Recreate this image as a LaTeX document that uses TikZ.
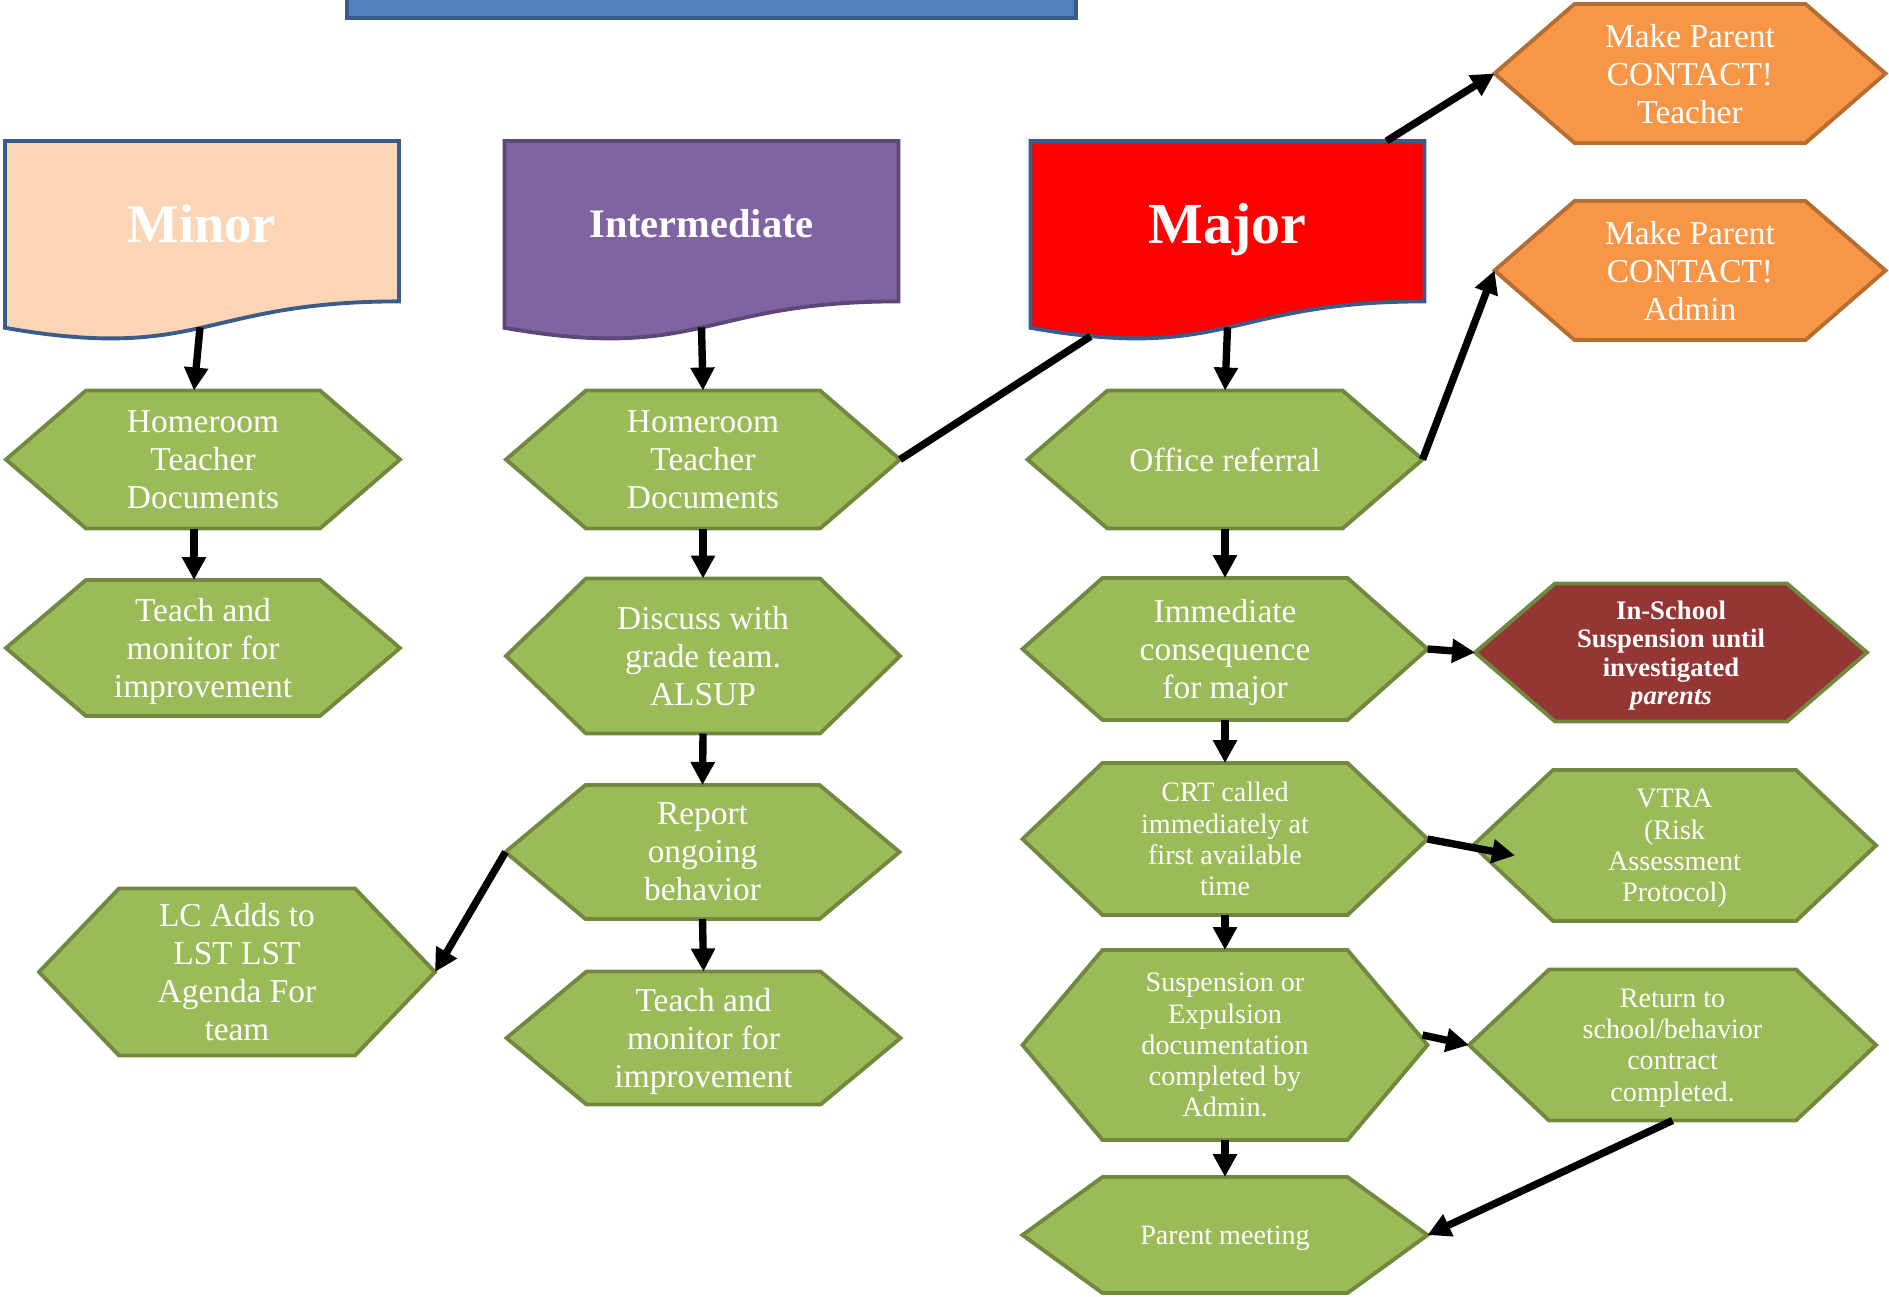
\documentclass[tikz,border=0pt]{standalone}
\usepackage{fontspec}
\setmainfont{Liberation Serif}
\usetikzlibrary{arrows.meta,backgrounds,calc}
\definecolor{grn}{HTML}{9BBB59}
\definecolor{grnd}{HTML}{71893F}
\definecolor{org}{HTML}{F79646}
\definecolor{orgd}{HTML}{B66D31}
\definecolor{wine}{HTML}{943634}
\definecolor{peach}{HTML}{FBD5B5}
\definecolor{lilac}{HTML}{8064A2}
\definecolor{lilacd}{HTML}{5C4776}
\definecolor{navy}{HTML}{385D8A}
\definecolor{bar}{HTML}{4F81BD}
\tikzset{
  >={Triangle[length=2.3mm,width=2.3mm]},
  hexa/.style={minimum width=3.94cm, minimum height=1.38cm, inner sep=0pt, outer sep=0pt,
               align=center, text=white, text depth=-1pt, font=\fontsize{9.5}{10.8}\selectfont},
  hexs/.style={hexa, minimum width=4.05cm, font=\fontsize{8}{8.9}\selectfont},
  doc/.style={minimum width=3.94cm, minimum height=1.604cm, inner sep=0pt, outer sep=0pt,
              text=white, text depth=0pt},
  hexg/.style={fill=grn, draw=grnd, line width=1.1pt},
  hexo/.style={fill=org, draw=orgd, line width=1.1pt},
  hexr/.style={fill=wine, draw=grnd, line width=1.1pt},
  l/.style={->, line width=2.1pt},
}

\begin{document}
\begin{tikzpicture}
  \useasboundingbox (0,0) rectangle (18.89,-12.96);
  % banner, cut by the top edge
  \draw[fill=bar, draw=navy, line width=1pt] (3.47,0.3) rectangle (10.76,-0.18);
  % level headings
  \node[doc, text height=11.9pt, font=\fontsize{15.5}{18}\selectfont\bfseries] (minor) at (2.02,-2.212) {Minor};
  \node[doc, text height=9.2pt, font=\fontsize{11.5}{14}\selectfont\bfseries] (inter) at (7.015,-2.212) {Intermediate};
  \node[doc, text height=12.5pt, font=\fontsize{16.5}{19}\selectfont\bfseries] (major) at (12.275,-2.212) {Major};
  % minor column
  \node[hexa] (hm1) at (2.03,-4.595) {Homeroom\\Teacher\\Documents};
  \node[hexa, minimum height=1.36cm] (tm1) at (2.03,-6.48) {Teach and\\monitor for\\improvement};
  \node[hexa, minimum width=3.96cm, minimum height=1.67cm] (lc) at (2.37,-9.72) {LC Adds to\\LST LST\\Agenda For\\team};
  % intermediate column
  \node[hexa] (hm2) at (7.03,-4.595) {Homeroom\\Teacher\\Documents};
  \node[hexa, minimum height=1.55cm] (disc) at (7.03,-6.56) {Discuss with\\grade team.\\ALSUP};
  \node[hexa, minimum height=1.34cm] (rep) at (7.025,-8.52) {Report\\ongoing\\behavior};
  \node[hexa, minimum height=1.33cm] (tm2) at (7.035,-10.38) {Teach and\\monitor for\\improvement};
  % major column
  \node[hexa, minimum width=3.95cm] (off) at (12.25,-4.595) {Office referral};
  \node[hexa, minimum width=4.05cm, minimum height=1.42cm] (imm) at (12.25,-6.49) {Immediate\\consequence\\for major};
  \node[hexs, minimum height=1.52cm] (crt) at (12.25,-8.39) {CRT called\\immediately at\\first available\\time};
  \node[hexs, minimum height=1.90cm] (susp) at (12.25,-10.45) {Suspension or\\Expulsion\\documentation\\completed by\\Admin.};
  \node[hexs, minimum height=1.16cm] (pm) at (12.25,-12.35) {Parent meeting};
  % right column
  \node[hexa, minimum width=3.91cm, minimum height=1.39cm] (mpt) at (16.90,-0.735) {Make Parent\\CONTACT!\\Teacher};
  \node[hexa, minimum width=3.91cm, minimum height=1.39cm] (mpa) at (16.90,-2.705) {Make Parent\\CONTACT!\\Admin};
  \node[hexa, minimum width=3.92cm, font=\fontsize{7.6}{8.1}\selectfont\bfseries] (iss) at (16.71,-6.525)
    {In-School\\Suspension until\\investigated\\\textit{parents}};
  \node[hexs, minimum width=4.03cm, minimum height=1.51cm] (vtra) at (16.745,-8.455) {VTRA\\(Risk\\Assessment\\Protocol)};
  \node[hexs, minimum width=4.07cm, minimum height=1.51cm] (ret) at (16.725,-10.45) {Return to\\school/behavior\\contract\\completed.};
  % outlines behind the texts
  \begin{scope}[on background layer]
    \foreach \n/\f/\d in {minor/peach/navy, inter/lilac/lilacd, major/red/navy}
      \draw[fill=\f, draw=\d, line width=1.1pt] (\n.north west) -- (\n.north east) -- (\n.south east)
        .. controls (\n.south) and ([yshift=-6.1mm]\n.south) .. ([yshift=-2.64mm]\n.south west) -- cycle;
    \foreach \n/\s in {hm1/hexg, tm1/hexg, lc/hexg, hm2/hexg, disc/hexg, rep/hexg, tm2/hexg,
                       off/hexg, imm/hexg, crt/hexg, susp/hexg, pm/hexg, vtra/hexg, ret/hexg,
                       mpt/hexo, mpa/hexo, iss/hexr}
      \draw[\s] (\n.west) -- ([xshift=8mm]\n.north west) -- ([xshift=-8mm]\n.north east) -- (\n.east)
        -- ([xshift=-8mm]\n.south east) -- ([xshift=8mm]\n.south west) -- cycle;
  \end{scope}
  % connectors
  \draw[l] ([shift={(-0.02,-0.26)}]minor.south) -- ([xshift=-0.9mm]hm1.north);
  \draw[l] ([xshift=-0.9mm]hm1.south) -- ([xshift=-0.9mm]tm1.north);
  \draw[l] ([yshift=-2.6mm]inter.south) -- (hm2.north);
  \draw[l] (hm2.south) -- (disc.north);
  \draw[l] (disc.south) -- (rep.north);
  \draw[l] (rep.south) -- (tm2.north);
  \draw[l] (rep.west) -- (lc.east);
  \draw[line width=2.1pt] (hm2.east) -- ([shift={(0.6,-0.35)}]major.south west);
  \draw[l] ([yshift=-2.6mm]major.south) -- (off.north);
  \draw[l] ([xshift=-3.8mm]major.north east) -- (mpt.west);
  \draw[l] (off.east) -- (mpa.west);
  \draw[l] (off.south) -- (imm.north);
  \draw[l] (imm.south) -- (crt.north);
  \draw[l] (crt.south) -- (susp.north);
  \draw[l] (susp.south) -- (pm.north);
  \draw[l] (imm.east) -- (iss.west);
  \draw[l] (crt.east) -- ([shift={(0.42,-0.1)}]vtra.west);
  \draw[l] ([shift={(-0.05,0.1)}]susp.east) -- (ret.west);
  \draw[l] (ret.south) -- (pm.east);
\end{tikzpicture}
\end{document}
